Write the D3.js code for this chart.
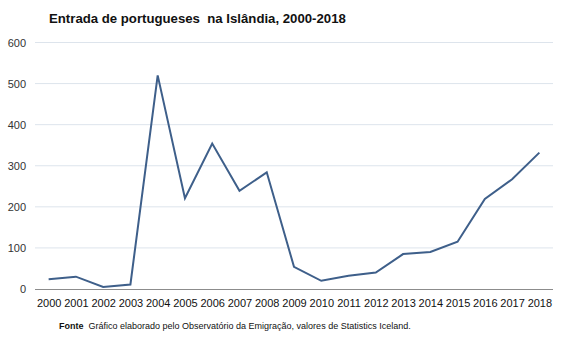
<!DOCTYPE html>
<html>
<head>
<meta charset="utf-8">
<script src="https://cdn.jsdelivr.net/npm/d3@7"></script>
<style>
  html, body { margin: 0; padding: 0; background: #fff; }
  svg { display: block; font-family: "Liberation Sans", Arial, sans-serif; }
</style>
</head>
<body>
<svg id="chart" width="567" height="340"></svg>
<script>
// Entradas anuais de portugueses na Islândia
const years = ["2000","2001","2002","2003","2004","2005","2006","2007","2008","2009",
               "2010","2011","2012","2013","2014","2015","2016","2017","2018"];
const entradas = [24, 30, 5, 11, 520, 221, 354, 239, 284, 54,
                  20, 32, 40, 85, 90, 115, 219, 267, 332];
const yTicks = [0, 100, 200, 300, 400, 500, 600];

const svg = d3.select("#chart");
const plotLeft = 35, plotRight = 553, plotTop = 42.5, plotBottom = 289;

const x = d3.scalePoint().domain(years).range([plotLeft, plotRight]).padding(0.5);
const y = d3.scaleLinear().domain([0, 600]).range([plotBottom, plotTop]);

// Título
svg.append("text")
  .attr("x", 49).attr("y", 23)
  .attr("font-size", 13.2).attr("font-weight", "bold")
  .attr("fill", "#111")
  .attr("xml:space", "preserve")
  .text("Entrada de portugueses  na Islândia, 2000-2018");

// Linhas de grelha horizontais
svg.append("g").selectAll("line")
  .data(yTicks.filter(d => d > 0))
  .join("line")
  .attr("x1", plotLeft).attr("x2", plotRight)
  .attr("y1", d => y(d)).attr("y2", d => y(d))
  .attr("stroke", "#dde4ec").attr("stroke-width", 1);

// Eixo Y (apenas rótulos)
const yAxis = svg.append("g")
  .attr("transform", `translate(${plotLeft},0)`)
  .call(d3.axisLeft(y).tickValues(yTicks).tickSize(0).tickPadding(9));
yAxis.select(".domain").remove();
yAxis.selectAll("text").attr("font-size", 11).attr("fill", "#333")
  .attr("font-family", "Liberation Sans, Arial, sans-serif");

// Eixo X
const xAxis = svg.append("g")
  .attr("transform", `translate(0,${plotBottom})`)
  .call(d3.axisBottom(x).tickSize(0).tickPadding(10));
xAxis.select(".domain").attr("stroke", "#8c8c8c").attr("d", `M${plotLeft},0.5H${plotRight}`);
xAxis.selectAll("text").attr("font-size", 11).attr("fill", "#111")
  .attr("font-family", "Liberation Sans, Arial, sans-serif");

// Série
const line = d3.line()
  .x((d, i) => x(years[i]))
  .y(d => y(d));

svg.append("path")
  .datum(entradas)
  .attr("d", line)
  .attr("fill", "none")
  .attr("stroke", "#3e5f8a")
  .attr("stroke-width", 2)
  .attr("stroke-linejoin", "miter");

// Fonte
const fonte = svg.append("text")
  .attr("x", 59).attr("y", 329)
  .attr("font-size", 9).attr("fill", "#111")
  .attr("xml:space", "preserve");
fonte.append("tspan").attr("font-weight", "bold").text("Fonte");
fonte.append("tspan").text("  Gráfico elaborado pelo Observatório da Emigração, valores de Statistics Iceland.");
</script>
</body>
</html>
